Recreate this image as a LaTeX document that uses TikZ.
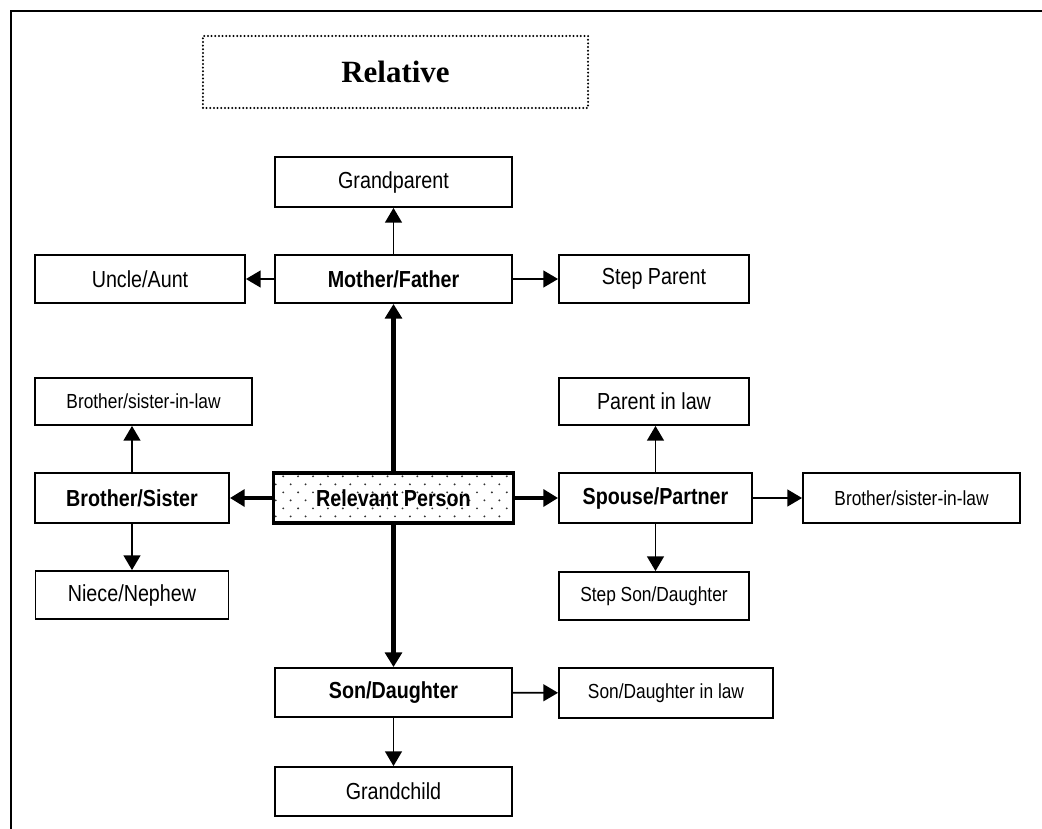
\documentclass[tikz,border=0pt]{standalone}
\usepackage{fontspec}
\setmainfont{Liberation Sans}[FakeStretch=0.85]
\newfontfamily\titlefont{Liberation Serif}
\usepackage{tikz}
\usetikzlibrary{arrows.meta,patterns}
\pgfdeclarepatternformonly{sparsedots}{\pgfpoint{-1pt}{-1pt}}{\pgfpoint{11.6pt}{12.4pt}}{\pgfpoint{10.6pt}{11.4pt}}{%
  \pgfpathcircle{\pgfpoint{0pt}{0pt}}{0.75pt}%
  \pgfpathcircle{\pgfpoint{5.3pt}{5.7pt}}{0.75pt}%
  \pgfusepath{fill}}
\begin{document}
\begin{tikzpicture}[x=0.025cm,y=-0.025cm,
    box/.style={draw,line width=1.3pt,inner sep=0pt,minimum width=5.925cm,minimum height=1.2cm,font=\fontsize{16.5}{19}\selectfont},
    smalltext/.style={font=\fontsize{14.5}{17}\selectfont},
    link/.style={-{Triangle[length=10.5pt,width=12pt]},line width=1.3pt},
    thicklink/.style={link,line width=3pt}]
      \useasboundingbox (0,0) rectangle (1042,829);
      \draw[line width=1.5pt] (1042,11) -- (11,11) -- (11,829);
      \node[draw,line width=1.6pt,line cap=round,dash pattern=on 0pt off 2.6pt,minimum width=9.625cm,minimum height=1.8cm,
        font=\titlefont\fontsize{22}{26}\selectfont\bfseries] (title) at (395.5,72) {Relative};
      % parents row
      \node[box,minimum height=1.25cm] (gp) at (393.5,182) {Grandparent};
      \node[box] (mf) at (393.5,279) {\textbf{Mother/Father}};
      \node[box,minimum width=5.25cm] (ua) at (140,279) {Uncle/Aunt};
      \node[box,minimum width=4.75cm] (sp) at (654,279) {Step Parent};
      % in-law row
      \node[box,smalltext,minimum width=5.425cm,minimum height=1.175cm] (bsl) at (143.5,401.5) {Brother/sister-in-law};
      \node[box,minimum width=4.75cm,minimum height=1.175cm] (pil) at (654,401.5) {Parent in law};
      % relevant person row
      \node[box,minimum width=4.85cm,minimum height=1.25cm] (bs) at (132,498) {\textbf{Brother/Sister}};
      \node[box,line width=2.4pt,minimum width=6cm,minimum height=1.25cm,pattern=sparsedots,pattern color=black!80] (rp) at (393.5,498) {\textbf{Relevant Person}};
      \node[box,minimum width=4.825cm,minimum height=1.25cm] (spp) at (655.5,498) {\textbf{Spouse/Partner}};
      \node[box,smalltext,minimum width=5.425cm,minimum height=1.25cm] (bslr) at (911.5,498) {Brother/sister-in-law};
      % children row
      \node[box,minimum width=4.825cm] (nn) at (132,595) {Niece/Nephew};
      \node[box,smalltext,minimum width=4.75cm] (ssd) at (654,596) {Step Son/Daughter};
      \node[box,minimum height=1.225cm] (sd) at (393.5,692.5) {\textbf{Son/Daughter}};
      \node[box,smalltext,minimum width=5.35cm,minimum height=1.25cm] (sdil) at (666,693) {Son/Daughter in law};
      \node[box,minimum height=1.225cm] (gc) at (393.5,791.5) {Grandchild};
      % connectors
      \draw[thicklink] (rp) -- (mf);
      \draw[thicklink] (rp) -- (sd);
      \draw[thicklink] (rp) -- (bs);
      \draw[thicklink] (rp) -- (spp);
      \draw[link] (mf) -- (gp);
      \draw[link] (mf) -- (ua);
      \draw[link] (mf) -- (sp);
      \draw[link] (bs.north) -- (bs.north |- bsl.south);
      \draw[link] (bs.south) -- (bs.south |- nn.north);
      \draw[link] (spp.north) -- (spp.north |- pil.south);
      \draw[link] (spp.south) -- (spp.south |- ssd.north);
      \draw[link] (spp) -- (bslr);
      \draw[link] (sd) -- (sdil);
      \draw[link] (sd) -- (gc);
\end{tikzpicture}
\end{document}
